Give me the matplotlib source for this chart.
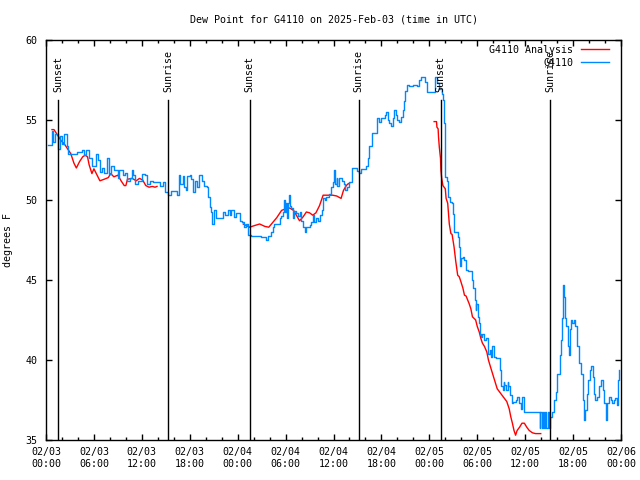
import datetime as dt
import numpy as np
import matplotlib
matplotlib.use('Agg')
import matplotlib.pyplot as plt
import matplotlib.dates as mdates

# start of the plotted period (UTC)
t0 = dt.datetime(2025, 2, 3, 0, 0)

# station observations: hours after t0, dew point (F)
obs_hours = [0.3, 0.75, 0.9, 1.17, 1.45, 1.8, 2.0, 2.3, 2.6, 2.8, 3.3, 3.9, 4.5, 4.8, 5.0, 5.4, 5.8, 6.2, 6.5, 6.7,
             7.0, 7.3, 7.6, 7.9, 8.2, 8.5, 8.7, 9.0, 9.2, 9.6, 9.9, 10.2, 10.5, 10.8, 10.9, 11.2, 11.5, 12.0, 12.4, 12.7,
             13.0, 13.4, 13.8, 14.1, 14.3, 14.6, 14.9, 15.3, 15.7, 16.25, 16.4, 16.7, 16.8, 17.1, 17.3, 17.5, 17.7, 18.0, 18.2, 18.4,
             18.6, 18.9, 19.2, 19.5, 19.75, 20.1, 20.3, 20.5, 20.7, 20.8, 21.0, 21.25, 21.5, 21.95, 22.2, 22.4, 22.8, 23.0, 23.2, 23.5,
             23.75, 24.0, 24.25, 24.6, 24.75, 25.0, 25.3, 25.7, 26.3, 26.95, 27.4, 27.6, 27.8, 28.2, 28.4, 28.6, 29.0, 29.25, 29.4, 29.7,
             29.75, 29.9, 30.0, 30.2, 30.3, 30.4, 30.6, 30.7, 30.9, 31.1, 31.3, 31.5, 31.75, 31.95, 32.15, 32.4, 32.6, 33.0, 33.2, 33.4,
             33.6, 33.8, 34.0, 34.25, 34.5, 34.7, 34.9, 35.1, 35.4, 35.7, 35.9, 36.1, 36.25, 36.4, 36.5, 36.75, 37.1, 37.3, 37.5, 37.7,
             38.0, 38.3, 38.6, 38.9, 39.2, 39.5, 39.9, 40.1, 40.3, 40.5, 40.7, 40.8, 41.1, 41.4, 41.5, 41.7, 42.0, 42.2, 42.4, 42.6,
             42.8, 43.0, 43.2, 43.4, 43.6, 43.8, 44.0, 44.2, 44.5, 44.7, 44.8, 45.0, 45.2, 45.5, 45.9, 46.2, 46.5, 46.75, 46.95, 47.4,
             47.5, 47.7, 48.2, 48.6, 48.75, 48.9, 49.2, 49.6, 49.7, 49.8, 49.9, 50.0, 50.2, 50.3, 50.4, 50.6, 50.8, 51.0, 51.1, 51.4,
             51.6, 51.7, 51.8, 51.95, 52.2, 52.4, 52.6, 52.8, 53.1, 53.3, 53.5, 53.75, 53.8, 53.9, 54.1, 54.25, 54.4, 54.5, 54.6, 54.8,
             55.1, 55.3, 55.4, 55.6, 55.7, 55.9, 56.1, 56.3, 56.7, 56.8, 56.95, 57.2, 57.3, 57.4, 57.6, 57.8, 57.9, 58.1, 58.3, 58.5,
             58.8, 59.0, 59.2, 59.5, 59.6, 59.75, 59.9, 60.9, 61.7, 61.8, 61.9, 62.05, 62.2, 62.35, 62.5, 62.65, 62.8, 62.95, 63.1, 63.4,
             63.6, 63.8, 64.0, 64.3, 64.5, 64.6, 64.7, 64.75, 64.9, 65.0, 65.1, 65.3, 65.4, 65.5, 65.6, 65.7, 65.9, 66.1, 66.3, 66.5,
             66.75, 66.95, 67.2, 67.25, 67.4, 67.5, 67.7, 67.9, 68.1, 68.3, 68.5, 68.6, 68.8, 69.0, 69.25, 69.5, 69.7, 69.9, 70.1, 70.3,
             70.5, 70.7, 70.9, 71.1, 71.3, 71.5, 71.6, 71.8]
obs_dewp = [53.45, 54.3, 53.6, 54.1, 53.2, 54.0, 53.5, 54.1, 53.4, 52.9, 52.9, 53.0, 53.15, 52.8, 53.1, 52.6, 52.1, 52.9, 52.5, 51.75,
            52.0, 51.7, 52.6, 51.6, 52.1, 51.85, 51.85, 51.4, 51.85, 51.55, 51.7, 51.2, 51.4, 51.85, 51.55, 51.0, 51.2, 51.6, 51.55, 51.0,
            51.2, 51.15, 51.1, 51.1, 50.9, 51.1, 50.5, 50.3, 50.55, 50.55, 50.3, 51.55, 51.0, 51.5, 50.8, 50.6, 51.5, 51.55, 51.3, 50.5,
            51.2, 50.8, 51.55, 51.2, 50.9, 50.8, 50.2, 49.55, 49.25, 48.5, 49.4, 48.85, 48.9, 48.9, 49.25, 49.05, 49.35, 49.05, 49.35, 48.95,
            49.2, 49.2, 48.7, 48.65, 48.3, 48.5, 47.8, 47.75, 47.75, 47.7, 47.7, 47.5, 47.75, 48.0, 48.3, 48.5, 48.5, 48.9, 49.0, 49.25,
            50.0, 49.25, 49.8, 48.9, 49.8, 50.3, 49.6, 49.5, 48.9, 49.3, 49.2, 49.0, 49.25, 48.7, 48.3, 48.0, 48.3, 48.45, 48.6, 49.05,
            48.6, 48.9, 48.7, 49.05, 49.35, 50.1, 50.0, 50.2, 50.4, 50.8, 51.1, 51.85, 51.0, 51.4, 50.9, 51.4, 51.2, 51.0, 50.6, 50.8,
            51.1, 52.0, 52.0, 51.8, 51.7, 51.95, 51.95, 52.15, 52.6, 53.4, 53.4, 54.2, 54.2, 54.25, 55.1, 54.9, 55.1, 55.1, 55.3, 55.5,
            55.0, 54.8, 54.6, 55.1, 55.6, 55.3, 55.0, 54.85, 55.2, 55.6, 56.2, 56.8, 57.2, 57.1, 57.2, 57.2, 57.1, 57.5, 57.7, 57.7,
            57.35, 56.75, 56.75, 56.75, 57.7, 57.3, 56.95, 56.6, 56.25, 54.8, 53.4, 51.45, 51.2, 50.7, 50.2, 49.9, 49.8, 49.15, 48.0, 48.0,
            47.7, 47.05, 45.9, 46.35, 46.45, 46.25, 45.6, 45.55, 45.55, 45.0, 44.5, 43.75, 43.1, 43.5, 42.7, 42.3, 41.65, 41.45, 41.65, 41.25,
            41.4, 40.7, 40.4, 40.6, 40.2, 40.85, 40.2, 40.1, 40.1, 39.4, 38.35, 38.1, 38.6, 38.45, 38.1, 38.65, 38.35, 37.8, 37.3, 37.4,
            37.5, 37.7, 37.3, 36.95, 37.7, 37.7, 36.75, 36.75, 36.75, 35.75, 36.75, 35.75, 36.75, 35.75, 36.75, 35.75, 36.75, 35.75, 36.45, 36.75,
            37.5, 38.0, 39.15, 40.3, 41.25, 42.6, 43.95, 44.7, 43.95, 42.6, 42.1, 42.1, 40.85, 40.3, 41.95, 42.5, 42.3, 42.5, 42.1, 40.85,
            39.8, 39.15, 39.0, 37.5, 36.25, 36.9, 37.9, 38.75, 39.4, 39.6, 38.95, 37.9, 37.5, 37.7, 38.35, 38.75, 38.1, 37.3, 36.25, 37.3,
            37.7, 37.5, 37.3, 37.5, 37.6, 37.2, 38.75, 39.4]

# analysis series (gaps where no analysis is available)
ana_hours = [0.75, 1.0, 1.45, 1.9, 2.3, 2.7, 3.1, 3.5, 3.8, 4.2, 4.6, 4.9, 5.2, 5.4, 5.75, 6.0, 6.3, 6.75, 7.3, 7.8,
             8.1, 8.5, 9.0, 9.4, 9.8, 10.0, 10.2, 10.8, 11.3, 11.7, 12.1, 12.5, 12.9, 13.3, 13.65, 13.9, 19.0,
             24.7, 25.5, 26.1, 26.75, 27.4, 27.9, 28.4, 28.9, 29.5, 30.0, 30.5, 31.0, 31.35, 31.75, 32.2, 32.6, 33.0, 33.4, 33.8,
             34.25, 34.7, 35.3, 35.9, 36.4, 36.95, 37.25, 37.6, 37.8, 38.0, 43.0,
             48.6, 48.9, 48.95, 49.1, 49.15, 49.25, 49.4, 49.45, 49.55, 49.7, 50.0, 50.1, 50.3, 50.5, 50.7, 50.85, 51.1, 51.3, 51.55,
             51.75, 51.95, 52.2, 52.4, 52.6, 52.8, 53.0, 53.2, 53.4, 53.6, 53.8, 54.0, 54.25, 54.45, 54.65, 54.9, 55.2, 55.4, 55.7,
             56.1, 56.5, 56.95, 57.4, 57.7, 58.0, 58.2, 58.4, 58.6, 58.8, 59.0, 59.3, 59.6, 59.9, 60.2, 60.5, 60.9, 61.3, 61.95]
ana_dewp = [54.4, 54.4, 54.05, 53.7, 53.5, 53.2, 52.9, 52.3, 52.0, 52.4, 52.7, 52.8, 52.7, 52.2, 51.65, 51.95, 51.65, 51.2, 51.3, 51.4,
            51.65, 51.45, 51.55, 51.2, 50.9, 50.9, 51.3, 51.35, 51.2, 51.35, 51.25, 50.9, 50.8, 50.85, 50.8, 50.85, np.nan,
            48.5, 48.3, 48.4, 48.5, 48.35, 48.3, 48.6, 48.9, 49.35, 49.45, 49.5, 49.35, 49.05, 48.7, 48.95, 49.25, 49.2, 49.05, 49.2,
            49.65, 50.3, 50.3, 50.3, 50.25, 50.1, 50.6, 50.9, 51.0, 51.05, np.nan,
            54.9, 54.9, 54.55, 54.45, 53.95, 53.3, 52.6, 51.85, 51.35, 50.9, 50.7, 50.1, 49.8, 48.5, 47.9, 47.85, 47.05, 46.2, 45.3,
            45.2, 44.9, 44.5, 44.05, 44.0, 43.75, 43.5, 43.2, 42.7, 42.6, 42.5, 42.1, 41.75, 41.35, 41.05, 40.85, 40.5, 40.0, 39.5,
            38.85, 38.2, 37.9, 37.6, 37.4, 36.95, 36.45, 36.05, 35.6, 35.3, 35.6, 35.8, 36.05, 36.05, 35.8, 35.6, 35.45, 35.4, 35.4]

# sunrise / sunset (hours after t0)
sun_hours = [1.54, 15.29, 25.5, 39.17, 49.42, 63.15]
sun_labels = ['Sunset', 'Sunrise', 'Sunset', 'Sunrise', 'Sunset', 'Sunrise']

to_time = lambda hh: [t0 + dt.timedelta(hours=h) for h in hh]

mono = 'DejaVu Sans Mono'
fs = 7.2
plt.rcParams['font.family'] = mono
plt.rcParams['font.size'] = fs

fig = plt.figure(figsize=(6.4, 4.8), dpi=100)
ax = fig.add_axes([46/640, 40/480, 575/640, 400/480])

ax.plot(to_time(ana_hours), ana_dewp, color='#ff0000', lw=1.0, label='G4110 Analysis')
ax.plot(to_time(obs_hours), obs_dewp, color='#0088ff', lw=1.0, drawstyle='steps-post', label='G4110')

for h, lab in zip(sun_hours, sun_labels):
    t = t0 + dt.timedelta(hours=h)
    ax.axvline(t, ymin=0, ymax=0.851, color='black', lw=1.0)
    ax.text(t, 56.72, lab, rotation=90, ha='center', va='bottom', fontsize=fs)

ax.set_xlim(t0, t0 + dt.timedelta(hours=72))
ax.set_ylim(35, 60)
ax.set_yticks([35, 40, 45, 50, 55, 60])

ax.xaxis.set_major_locator(mdates.HourLocator(byhour=range(0, 24, 6)))
ax.xaxis.set_minor_locator(mdates.HourLocator(byhour=range(0, 24, 2)))
ax.xaxis.set_major_formatter(mdates.DateFormatter('%m/%d\n%H:%M'))

ax.tick_params(which='both', direction='in', top=True, right=True, width=1.0, color='black')
ax.tick_params(which='major', length=4.5, pad=5)
ax.tick_params(which='minor', length=2.5)
ax.tick_params(axis='y', pad=6)
for s in ax.spines.values():
    s.set_linewidth(1.0)

ax.set_title('Dew Point for G4110 on 2025-Feb-03 (time in UTC)', fontsize=fs, pad=12.5)
ax.set_ylabel('degrees F', fontsize=fs, labelpad=9)

ax.legend(loc='upper right', bbox_to_anchor=(0.995, 1.01), frameon=False, markerfirst=False,
          handlelength=2.8, handletextpad=0.8, labelspacing=0.3, borderpad=0.4, fontsize=fs)

fig.savefig('out.png', dpi=100)
